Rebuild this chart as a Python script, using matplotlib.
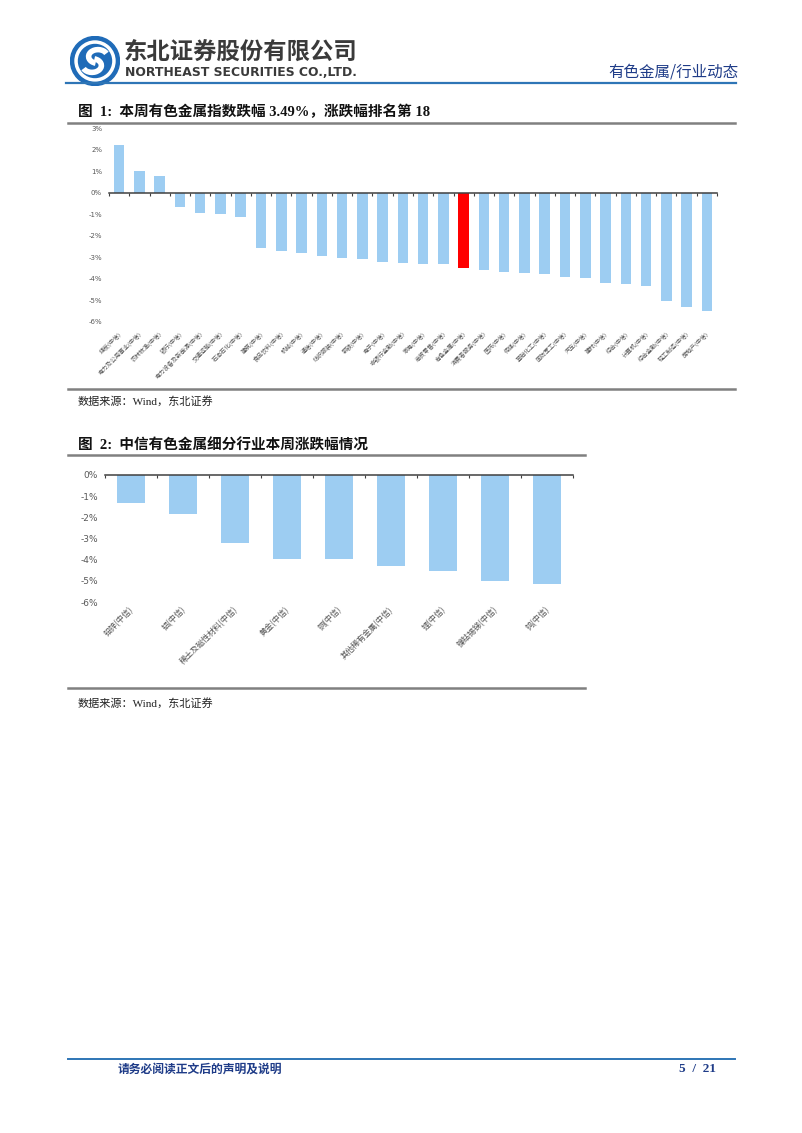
import matplotlib
matplotlib.use("Agg")
import matplotlib.pyplot as plt
import matplotlib.transforms as mtransforms
from matplotlib.lines import Line2D
from matplotlib.patches import Circle, Arc
from matplotlib.ticker import FuncFormatter

# ---- data ----
industries = ["煤炭(中信)", "电力及公用事业(中信)", "农林牧渔(中信)", "银行(中信)",
              "电力设备及新能源(中信)", "交通运输(中信)", "石油石化(中信)", "建筑(中信)",
              "食品饮料(中信)", "机械(中信)", "通信(中信)", "纺织服装(中信)", "钢铁(中信)",
              "电子(中信)", "非银行金融(中信)", "家电(中信)", "商贸零售(中信)",
              "有色金属(中信)", "消费者服务(中信)", "医药(中信)", "传媒(中信)",
              "基础化工(中信)", "国防军工(中信)", "汽车(中信)", "建材(中信)", "综合(中信)",
              "计算机(中信)", "综合金融(中信)", "轻工制造(中信)", "房地产(中信)"]
industry_chg = [2.22, 1.00, 0.77, -0.68, -0.96, -1.00, -1.11, -2.59, -2.71, -2.80,
                -2.93, -3.04, -3.07, -3.21, -3.26, -3.29, -3.30, -3.49, -3.58, -3.66,
                -3.74, -3.78, -3.90, -3.98, -4.17, -4.25, -4.33, -5.03, -5.29, -5.50]
highlight = "有色金属(中信)"

subsectors = ["铅锌(中信)", "铝(中信)", "稀土及磁性材料(中信)", "黄金(中信)", "铜(中信)",
              "其他稀有金属(中信)", "锂(中信)", "镍钴锡锑(中信)", "钨(中信)"]
subsector_chg = [-1.33, -1.83, -3.20, -3.98, -3.98, -4.28, -4.53, -4.99, -5.15]

W, H = 802, 1133
BLUE_BAR = "#9DCDF2"
RED_BAR = "#FF0000"
CJK = ["Noto Sans CJK SC", "DejaVu Sans"]
SERIF_CJK = ["Liberation Serif", "Noto Sans CJK SC"]

fig = plt.figure(figsize=(W / 100, H / 100), dpi=100)


def fx(x):
    return x / W


def fy(y):
    return 1 - y / H


def hline(x0, x1, y, color, lw):
    fig.add_artist(Line2D([fx(x0), fx(x1)], [fy(y), fy(y)], transform=fig.transFigure,
                          color=color, lw=lw))


# ---- header ----
logo = fig.add_axes([fx(70), fy(86), fx(50), 50 / H])
logo.set_xlim(-1, 1)
logo.set_ylim(-1, 1)
logo.set_aspect("equal")
logo.axis("off")
logo.add_patch(Circle((0, 0), 0.98, color="#1F6BB8"))
logo.add_patch(Circle((0, 0), 0.80, color="white"))
logo.add_patch(Circle((0, 0), 0.66, color="#1F6BB8"))
logo.add_patch(Arc((0.12, 0.18), 0.75, 0.55, theta1=20, theta2=250, color="white", lw=4))
logo.add_patch(Arc((-0.12, -0.18), 0.75, 0.55, theta1=200, theta2=430, color="white", lw=4))

fig.text(fx(124), fy(52), "东北证券股份有限公司", family=CJK, weight="bold",
         fontsize=16.8, color="#3a3a3a", va="center", ha="left")
fig.text(fx(125), fy(72), "NORTHEAST SECURITIES CO.,LTD.", family="DejaVu Sans",
         weight="bold", fontsize=8.9, color="#3a3a3a", va="center", ha="left")
fig.text(fx(738), fy(72), "有色金属/行业动态", family=CJK, fontsize=11.2,
         color="#1F3C88", va="center", ha="right")
hline(66, 736, 83, "#2E75B6", 1.6)

# ---- chart 1 ----
fig.text(fx(78), fy(112), "图  1:  本周有色金属指数跌幅 3.49%，涨跌幅排名第 18",
         family=SERIF_CJK, weight="bold", fontsize=10.5, color="#111111",
         va="center", ha="left")
hline(68, 735, 123, "#808080", 1.8)


def style_axes(ax, n, tick_size):
    ax.set_xlim(-0.5, n - 0.5)
    for s in ["top", "right", "left"]:
        ax.spines[s].set_visible(False)
    ax.spines["bottom"].set_position(("data", 0))
    ax.spines["bottom"].set_color("#404040")
    ax.spines["bottom"].set_linewidth(1.1)
    ax.set_xticks([i - 0.5 for i in range(n + 1)])
    ax.set_xticklabels([])
    ax.tick_params(axis="x", length=2.5, width=0.8, color="#404040", direction="out")
    ax.tick_params(axis="y", length=0, labelsize=tick_size, labelcolor="#595959", pad=5)
    ax.yaxis.set_major_formatter(FuncFormatter(lambda v, p: f"{v:.0f}%"))


ax1 = fig.add_axes([fx(109), fy(322), fx(608), 194 / H])
colors1 = [RED_BAR if c == highlight else BLUE_BAR for c in industries]
ax1.bar(range(len(industries)), industry_chg, width=0.52, color=colors1, zorder=2)
ax1.set_ylim(-6, 3)
ax1.set_yticks(range(-6, 4))
style_axes(ax1, len(industries), 5)
tr1 = mtransforms.blended_transform_factory(ax1.transData, ax1.transAxes)
for i, name in enumerate(industries):
    ax1.text(i + 0.05, -0.055, name, transform=tr1, rotation=45, rotation_mode="anchor",
             ha="right", va="center", fontsize=4.3, family=CJK, color="#555555")

hline(68, 735, 389, "#808080", 1.8)
fig.text(fx(78), fy(401), "数据来源：Wind，东北证券", family=SERIF_CJK, fontsize=8,
         color="#222222", va="center", ha="left")

# ---- chart 2 ----
fig.text(fx(78), fy(446), "图  2:  中信有色金属细分行业本周涨跌幅情况",
         family=SERIF_CJK, weight="bold", fontsize=10.5, color="#111111",
         va="center", ha="left")
hline(68, 585, 455, "#808080", 1.8)

ax2 = fig.add_axes([fx(105), fy(602), fx(468), 127 / H])
ax2.bar(range(len(subsectors)), subsector_chg, width=0.55, color=BLUE_BAR, zorder=2)
ax2.set_ylim(-6, 0)
ax2.set_yticks(range(-6, 1))
style_axes(ax2, len(subsectors), 6.5)
tr2 = mtransforms.blended_transform_factory(ax2.transData, ax2.transAxes)
for i, name in enumerate(subsectors):
    ax2.text(i + 0.02, -0.05, name, transform=tr2, rotation=45, rotation_mode="anchor",
             ha="right", va="center", fontsize=5.8, family=CJK, color="#555555")

hline(68, 585, 688, "#808080", 1.8)
fig.text(fx(78), fy(703), "数据来源：Wind，东北证券", family=SERIF_CJK, fontsize=8,
         color="#222222", va="center", ha="left")

# ---- footer ----
hline(68, 735, 1059, "#2E75B6", 1.4)
fig.text(fx(118), fy(1069), "请务必阅读正文后的声明及说明", family=CJK, weight="bold",
         fontsize=8.5, color="#1F3C88", va="center", ha="left")
fig.text(fx(716), fy(1069), "5  /  21", family="Liberation Serif", weight="bold",
         fontsize=9.5, color="#1F3C88", va="center", ha="right")

fig.savefig("out.png", dpi=100)
